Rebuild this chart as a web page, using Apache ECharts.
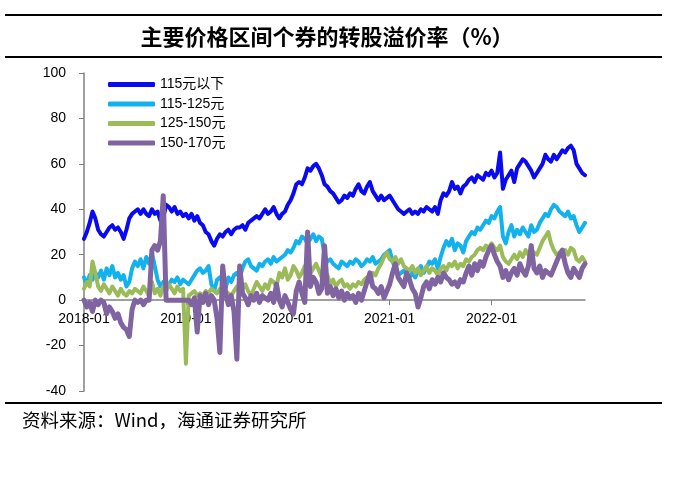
<!DOCTYPE html>
<html><head><meta charset="utf-8">
<script src="https://cdn.jsdelivr.net/npm/echarts@6/dist/echarts.min.js"></script>
<style>html,body{margin:0;padding:0;background:#fff}#c{width:683px;height:477px}</style>
</head><body><div id="c"></div>
<script>
const seriesNames = ['115元以下','115-125元','125-150元','150-170元'];
const seriesColors = ['#0A0AF0','#12B2EE','#9BBB59','#8064A2'];
const yMin = -40, yMax = 100, yStep = 20;

// x grid: the 1st, 11th and 21st of each month, 2018-01-01 .. 2022-12-01
const dates = [];
for (let y = 2018; y <= 2022; y++) for (let m = 1; m <= 12; m++) for (const d of [1, 11, 21])
  dates.push(y + '-' + String(m).padStart(2, '0') + '-' + String(d).padStart(2, '0'));
dates.length = 178;

const s115below = [
 27,30,34,39,36,31,29,28,30,32,
 33,31,32,30,27,31,36,38,39,40,
 38,40,38,37,40,38,39,35,36,42,
 41,39,41,38,39,37,38,36,38,35,
 37,34,33,30,29,26,24,27,29,28,
 30,31,29,31,32,32,33,31,34,35,
 36,37,36,38,40,38,39,41,38,36,
 38,39,42,44,47,51,52,51,54,58,
 57,59,60,58,55,51,50,48,47,45,
 43,44,46,45,47,46,49,51,48,47,
 50,52,48,46,44,46,44,45,46,44,
 42,40,39,38,39,40,38,39,38,40,
 39,41,40,39,41,38,44,47,46,48,
 52,49,50,47,50,51,53,54,52,55,
 54,53,56,55,57,54,56,65,49,53,
 55,57,52,58,60,62,61,59,57,54,
 56,58,60,64,62,61,64,62,64,66,
 65,67,68,66,60,58,56,55];
const s115to125 = [
 10,7,11,9,12,10,13,9,14,11,
 15,10,12,9,11,6,8,14,17,15,
 18,14,19,16,21,15,9,6,8,5,
 7,9,8,10,7,9,8,7,9,11,
 13,14,12,13,15,7,4,9,10,8,
 5,10,8,11,12,10,14,17,18,15,
 14,13,16,15,17,18,16,19,17,18,
 19,20,22,21,23,26,25,28,27,25,
 27,29,26,28,27,20,17,18,16,15,
 14,17,16,15,17,16,18,17,15,16,
 18,17,19,16,17,18,20,21,22,17,
 14,11,12,13,11,10,12,10,13,15,
 12,14,17,16,18,14,19,23,26,24,
 27,22,25,24,21,26,28,30,29,32,
 31,33,35,34,37,36,39,41,28,25,
 30,33,28,31,29,32,30,28,33,30,
 31,34,36,38,37,40,42,41,39,38,
 37,39,36,37,33,30,32,34];
const s125to150 = [
 5,8,6,17,12,6,4,7,5,3,
 6,4,2,5,3,2,4,3,5,4,
 3,6,4,2,8,3,5,2,6,4,
 7,5,3,6,4,5,-28,2,3,4,
 2,3,2,4,3,5,4,3,5,2,
 4,3,2,4,6,3,5,7,4,2,
 5,8,6,4,7,5,9,8,6,12,
 10,14,9,11,15,13,10,12,15,16,
 12,14,16,13,10,8,11,7,9,6,
 8,9,6,7,5,7,6,8,7,9,
 10,8,12,11,14,16,19,21,18,17,
 19,16,18,15,14,13,15,12,14,11,
 13,15,12,14,13,11,14,15,13,16,
 15,17,14,16,15,18,17,19,20,22,
 23,22,24,23,25,23,22,24,19,17,
 16,18,20,18,21,19,22,20,18,21,
 20,23,26,28,30,25,22,20,21,19,
 22,20,23,22,18,17,19,17];
const s150to170 = [
 0,-3,-1,-5,0,-2,0,-1,-6,-3,
 -5,-8,-6,-10,-12,-13,-16,-4,0,-1,
 0,-2,0,0,22,24,22,26,46,0,
 0,0,0,0,0,0,0,0,-2,1,
 -14,2,-1,3,-2,2,0,-8,-23,15,
 3,-2,2,-5,-26,15,3,1,-2,2,
 0,3,-1,2,1,0,3,-1,7,0,
 -3,2,-1,-4,-6,4,8,3,-1,30,
 6,10,8,3,5,24,3,6,2,5,
 1,4,0,3,1,2,-1,3,0,4,
 8,12,6,5,3,6,1,4,7,12,
 16,10,8,6,12,9,5,3,-3,1,
 6,8,5,9,7,10,8,12,10,9,
 7,8,6,9,8,12,15,11,16,13,
 17,15,19,22,24,20,17,15,10,13,
 9,12,14,11,16,13,11,15,24,14,
 12,15,10,13,12,11,14,17,20,22,
 16,12,10,14,12,10,14,16];
const seriesValues = [s115below, s115to125, s125to150, s150to170];
const lineWidths = [4, 4, 4, 5];

const GRID = {left: 84, right: 98, top: 73, bottom: 86};
const plotH = 477 - GRID.top - GRID.bottom;
// move the x axis (line, ticks, labels) up to the value 0
const zeroOffset = -plotH * (0 - yMin) / (yMax - yMin);

const FONT = "'Liberation Sans','Noto Sans CJK SC',sans-serif";
const chart = echarts.init(document.getElementById('c'), null, {renderer: 'canvas'});
const isYearStart = (i, v) => v.slice(5) === '01-01';
chart.setOption({
  backgroundColor: '#fff',
  animation: false,
  textStyle: {fontFamily: FONT},
  grid: Object.assign({containLabel: false}, GRID),
  legend: {
    orient: 'vertical', left: 103, top: 72, itemWidth: 47, itemHeight: 5, itemGap: 4.5,
    data: seriesNames.map((n, k) => ({name: n, icon: 'roundRect', itemStyle: {color: seriesColors[k]}})),
    textStyle: {fontSize: 14, color: '#000', fontFamily: FONT, lineHeight: 15}
  },
  xAxis: {
    type: 'category', data: dates, boundaryGap: false, position: 'bottom',
    offset: zeroOffset,
    axisLine: {onZero: false, lineStyle: {color: '#808080', width: 1.5}},
    axisTick: {show: true, interval: isYearStart, length: 5, lineStyle: {color: '#808080'}},
    axisLabel: {interval: isYearStart, formatter: v => v.slice(0, 7), fontSize: 14, color: '#000', margin: 12, fontFamily: FONT},
    splitLine: {show: false}
  },
  yAxis: {
    type: 'value', min: yMin, max: yMax, interval: yStep,
    axisLine: {show: true, lineStyle: {color: '#808080', width: 1.5}},
    axisTick: {show: true, length: 5, lineStyle: {color: '#808080'}},
    axisLabel: {fontSize: 14, color: '#000', margin: 18, fontFamily: FONT},
    splitLine: {show: false}
  },
  series: seriesNames.map((n, k) => ({
    name: n, type: 'line', data: seriesValues[k], symbol: 'none', smooth: false,
    color: seriesColors[k],
    lineStyle: {width: lineWidths[k], color: seriesColors[k], cap: 'round', join: 'round'},
    z: 2 + k
  })),
  graphic: [
    {type: 'line', shape: {x1: 5, y1: 15, x2: 662, y2: 15}, style: {stroke: '#000', lineWidth: 2}},
    {type: 'line', shape: {x1: 5, y1: 57, x2: 662, y2: 57}, style: {stroke: '#000', lineWidth: 2}},
    {type: 'line', shape: {x1: 5, y1: 403, x2: 662, y2: 403}, style: {stroke: '#000', lineWidth: 2}},
    {type: 'text', x: 327, y: 37, style: {text: '主要价格区间个券的转股溢价率（%）', fill: '#000', align: 'center', verticalAlign: 'middle', font: "bold 22px 'Noto Sans CJK SC',sans-serif"}},
    {type: 'text', x: 22, y: 420, style: {text: '资料来源：Wind，海通证券研究所', fill: '#000', verticalAlign: 'middle', font: "18.5px 'Noto Sans CJK SC',sans-serif"}}
  ]
});
</script></body></html>
